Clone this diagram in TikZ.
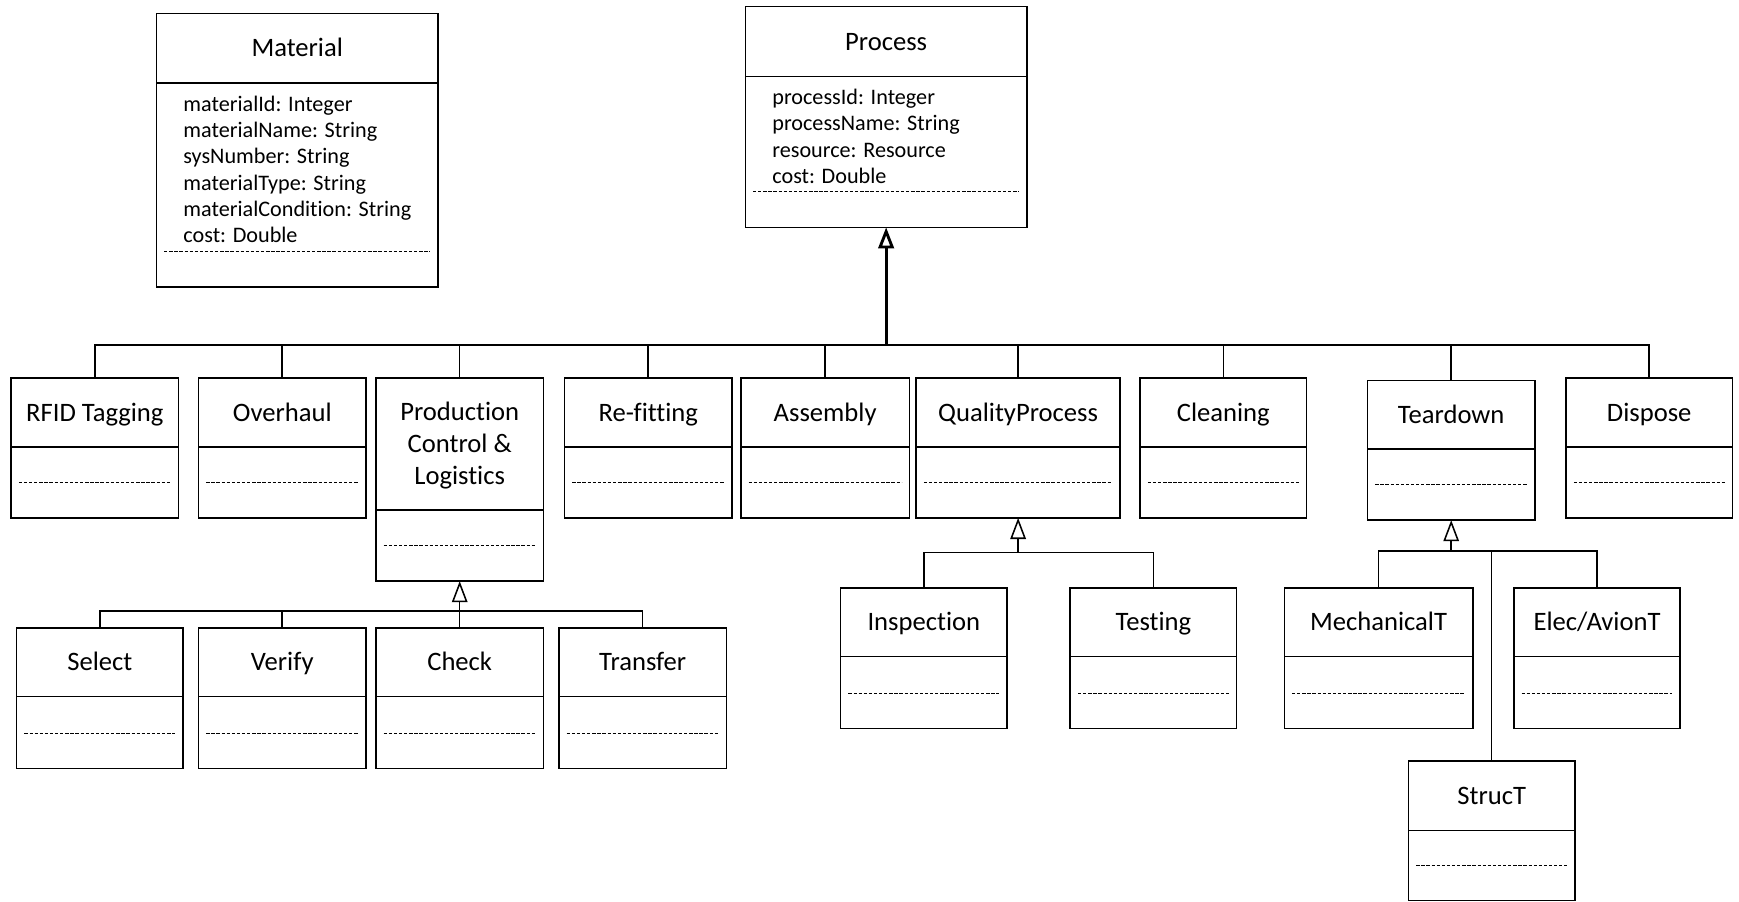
\documentclass[tikz,border=0pt]{standalone}
\usepackage{fontspec}
\setmainfont{Carlito}[Ligatures=NoCommon]
\usetikzlibrary{positioning,arrows.meta,calc}
\tikzset{
  clsbase/.style={draw,line width=0.7pt,inner sep=0pt,outer sep=0pt,align=center,
    font=\fontsize{12}{14.5}\selectfont,minimum width=75.5pt,minimum height=31pt},
  clshead/.style={clsbase,text height=9.9pt,text depth=2.1pt},
  clsbody/.style={draw,line width=0.7pt,inner sep=0pt,outer sep=0pt,
    minimum width=75.5pt,minimum height=32pt,
    path picture={\draw[attdash] ([xshift=3.5pt,yshift=16pt]path picture bounding box.south west)
      -- ([xshift=-3.5pt,yshift=16pt]path picture bounding box.south east);}},
  attdash/.style={line width=0.5pt,dash pattern=on 1.5pt off 0.8pt},   % empty operation row
  attlist/.style={inner sep=0pt,anchor=north west,align=left,font=\fontsize{10}{11.85}\selectfont},
  link/.style={line width=0.7pt},
  bus/.style={line width=1.1pt},
  gen/.style={-{Triangle[open,length=9.5pt,width=7pt]},line width=0.7pt},  % generalisation
}
\begin{document}
\begin{tikzpicture}[x=0.5pt,y=-0.5pt]
  \useasboundingbox (0,0) rectangle (1568,813);
  % ---- top classes ----
  \node[clshead,minimum width=127pt,minimum height=31.5pt,anchor=north] (material) at (268,12) {Material};
  \node[clsbody,minimum width=127pt,minimum height=92pt,below=0pt of material] (material-b) {};
  \node[attlist] (material-a) at ([xshift=12pt,yshift=-5.5pt]material-b.north west)
    {materialId: Integer\\ materialName: String\\ sysNumber: String\\ materialType: String\\ materialCondition: String\\ cost: Double};
  \node[clshead,minimum width=127pt,minimum height=31.5pt,anchor=north] (process) at (799,6) {Process};
  \node[clsbody,minimum width=127pt,minimum height=68pt,below=0pt of process] (process-b) {};
  \node[attlist] (process-a) at ([xshift=12pt,yshift=-5.5pt]process-b.north west)
    {processId: Integer\\ processName: String\\ resource: Resource\\ cost: Double};
  % ---- process subclasses ----
  \node[clshead,anchor=north] (rfid) at (85.5,341) {RFID Tagging};
  \node[clsbody,below=0pt of rfid] (rfid-b) {};
  \node[clshead,anchor=north] (overhaul) at (254.5,341) {Overhaul};
  \node[clsbody,below=0pt of overhaul] (overhaul-b) {};
  \node[clsbase,minimum height=59.5pt,text height=38.9pt,text depth=2.1pt,anchor=north] (pcl) at (414.5,341) {Production\\ Control \&\\ Logistics};
  \node[clsbody,below=0pt of pcl] (pcl-b) {};
  \node[clshead,anchor=north] (refit) at (584.5,341) {Re-fitting};
  \node[clsbody,below=0pt of refit] (refit-b) {};
  \node[clshead,minimum width=76pt,anchor=north] (assembly) at (744,341) {Assembly};
  \node[clsbody,minimum width=76pt,below=0pt of assembly] (assembly-b) {};
  \node[clshead,minimum width=92pt,anchor=north] (quality) at (918,341) {QualityProcess};
  \node[clsbody,minimum width=92pt,below=0pt of quality] (quality-b) {};
  \node[clshead,minimum width=75pt,anchor=north] (cleaning) at (1103,341) {Cleaning};
  \node[clsbody,minimum width=75pt,below=0pt of cleaning] (cleaning-b) {};
  \node[clshead,anchor=north] (teardown) at (1308.5,343) {Teardown};
  \node[clsbody,below=0pt of teardown] (teardown-b) {};
  \node[clshead,minimum width=75pt,anchor=north] (dispose) at (1487,341) {Dispose};
  \node[clsbody,minimum width=75pt,below=0pt of dispose] (dispose-b) {};
  % ---- second level ----
  \node[clshead,minimum width=75pt,anchor=north] (select) at (90,566) {Select};
  \node[clsbody,minimum width=75pt,minimum height=32.5pt,below=0pt of select] (select-b) {};
  \node[clshead,anchor=north] (verify) at (254.5,566) {Verify};
  \node[clsbody,minimum height=32.5pt,below=0pt of verify] (verify-b) {};
  \node[clshead,anchor=north] (check) at (414.5,566) {Check};
  \node[clsbody,minimum height=32.5pt,below=0pt of check] (check-b) {};
  \node[clshead,anchor=north] (transfer) at (579.5,566) {Transfer};
  \node[clsbody,minimum height=32.5pt,below=0pt of transfer] (transfer-b) {};
  \node[clshead,minimum width=75pt,anchor=north] (inspection) at (833,530) {Inspection};
  \node[clsbody,minimum width=75pt,minimum height=32.5pt,below=0pt of inspection] (inspection-b) {};
  \node[clshead,minimum width=75pt,anchor=north] (testing) at (1040,530) {Testing};
  \node[clsbody,minimum width=75pt,minimum height=32.5pt,below=0pt of testing] (testing-b) {};
  \node[clshead,minimum width=85pt,anchor=north] (mechT) at (1243,530) {MechanicalT};
  \node[clsbody,minimum width=85pt,minimum height=32.5pt,below=0pt of mechT] (mechT-b) {};
  \node[clshead,minimum width=75pt,anchor=north] (elecT) at (1440,530) {Elec/AvionT};
  \node[clsbody,minimum width=75pt,minimum height=32.5pt,below=0pt of elecT] (elecT-b) {};
  \node[clshead,minimum width=75pt,minimum height=31.5pt,anchor=north] (strucT) at (1345,686) {StrucT};
  \node[clsbody,minimum width=75pt,minimum height=31.5pt,below=0pt of strucT] (strucT-b) {};
  % ---- generalisation trees ----
  \coordinate (pbus) at (799,311);
  \coordinate (pclbus) at (414.5,551);
  \coordinate (qbus) at (918,498);
  \coordinate (tbus) at (1308.5,497);
  \draw[gen,line width=1.3pt] (pbus) -- (process-b.south);
  \foreach \c in {rfid,overhaul,pcl,refit,assembly,quality,cleaning,teardown,dispose}
    \draw[link] (\c.north) |- (pbus);
  \draw[bus] (rfid.north |- pbus) -- (dispose.north |- pbus);
  \draw[gen] (pclbus) -- (pcl-b.south);
  \foreach \c in {select,verify,check,transfer}
    \draw[link] (\c.north) |- (pclbus);
  \draw[gen] (qbus) -- (quality-b.south);
  \foreach \c in {inspection,testing}
    \draw[link] (\c.north) |- (qbus);
  \draw[gen] (tbus) -- (teardown-b.south);
  \foreach \c in {mechT,elecT,strucT}
    \draw[link] (\c.north) |- (tbus);
\end{tikzpicture}
\end{document}
